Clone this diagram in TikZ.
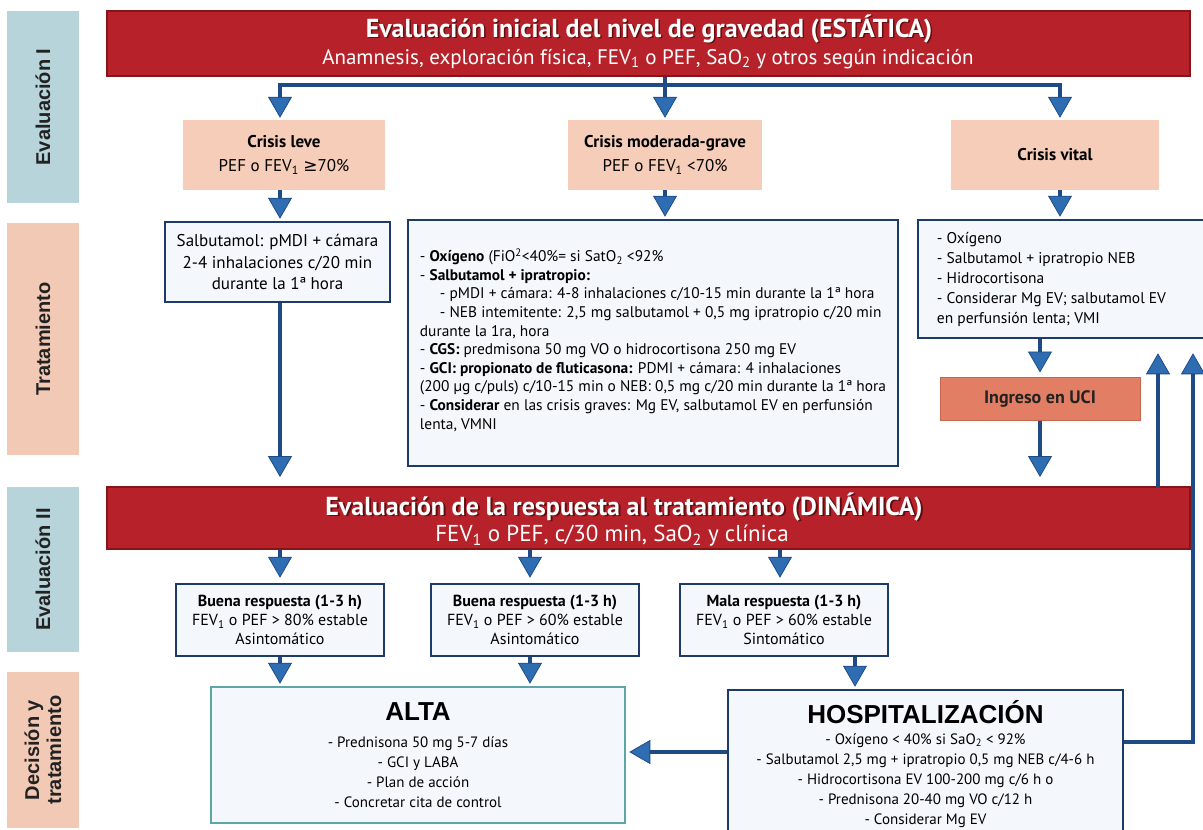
\documentclass[tikz,border=0pt]{standalone}
\usepackage{fontspec}
\setmainfont{PT Sans}
\newfontfamily\headfont{Liberation Sans}
\newfontfamily\symfont{DejaVu Sans}
\usetikzlibrary{arrows.meta}

\definecolor{linenavy}{HTML}{1E4B86}
\definecolor{headblue}{HTML}{2F6DB3}
\definecolor{boxborder}{HTML}{1C3B6A}
\definecolor{boxfill}{HTML}{F4F7FB}
\definecolor{crisisfill}{HTML}{F5CDB8}
\definecolor{labteal}{HTML}{B6D4D9}
\definecolor{labpeach}{HTML}{F2C9B5}
\definecolor{bannerred}{HTML}{B7222A}
\definecolor{bannerdark}{HTML}{861519}
\definecolor{shadowred}{HTML}{5E0E10}
\definecolor{ucifill}{HTML}{E27E63}
\definecolor{uciborder}{HTML}{C9654C}
\definecolor{altaborder}{HTML}{5DA6A7}
\definecolor{labtext}{HTML}{222222}

\newcommand{\sbs}[1]{\textsubscript{#1}}
\newcommand{\gesym}{{\symfont ≥}}

\begin{document}
\begin{tikzpicture}[x=1pt,y=-1pt,
  banner/.style={draw=bannerdark, line width=2pt, fill=bannerred, inner sep=0pt},
  bannertitle/.style={text=white, font=\fontsize{26}{30}\selectfont\bfseries, inner sep=0pt},
  bannersub/.style={text=white, font=\fontsize{21}{25}\selectfont, inner sep=0pt},
  labcol/.style={rotate=90, inner sep=0pt, text=labtext, align=center,
                 font=\headfont\fontsize{20}{22}\selectfont\bfseries},
  crisis/.style={fill=crisisfill, inner sep=0pt, align=center,
                 font=\fontsize{17}{24}\selectfont},
  tbox/.style={draw=boxborder, line width=2.5pt, fill=boxfill, inner sep=0pt},
  boxtext/.style={inner sep=0pt, align=center, font=\fontsize{17}{21.5}\selectfont},
  listtext/.style={inner sep=0pt, align=left, font=\fontsize{15.4}{18.6}\selectfont},
  resptext/.style={inner sep=0pt, align=center, font=\fontsize{16}{19}\selectfont},
  bigtitle/.style={inner sep=0pt, font=\headfont\fontsize{26}{30}\selectfont\bfseries},
  items/.style={inner sep=0pt, align=center, font=\fontsize{15}{20}\selectfont},
  conn/.style={draw=linenavy, line width=3.5pt},
  arr/.style={conn, -{Triangle[width=24pt,length=21pt,fill=headblue,line width=0.8pt]}}
]
\useasboundingbox (0,0) rectangle (1203,830);
\clip (0,0) rectangle (1203,830);

% column positions of the vertical connectors
\coordinate (xA) at (280,0);
\coordinate (xB) at (665,0);
\coordinate (xC) at (1060,0);
\coordinate (xD) at (1040,0);
\coordinate (xE) at (530,0);
\coordinate (xF) at (780,0);
\coordinate (xG) at (855,0);
\coordinate (xUp) at (1158,0);

% ---------- stage labels on the left ----------
\node[labcol, fill=labteal, minimum width=192, minimum height=72] (labE1) at (43,107) {Evaluación I};
\node[labcol, fill=labpeach, minimum width=232, minimum height=72] (labT) at (43,339) {Tratamiento};
\node[labcol, fill=labteal, minimum width=165, minimum height=72] (labE2) at (43,569.5) {Evaluación II};
\node[labcol, fill=labpeach, minimum width=156, minimum height=72] (labD) at (43,750) {Decisión y\\tratamiento};

% ---------- initial assessment ----------
\node[banner, minimum width=1083, minimum height=65] (top) at (648.5,43.5) {};
\node[bannertitle, text=shadowred] (toptitleshadow) at (650.5,30.5) {Evaluación inicial del nivel de gravedad (ESTÁTICA)};
\node[bannertitle] (toptitle) at (649,29) {Evaluación inicial del nivel de gravedad (ESTÁTICA)};
\node[bannersub] (topsub) at (648,59) {Anamnesis, exploración física, FEV\sbs{1} o PEF, SaO\sbs{2} y otros según indicación};

\node[crisis, minimum width=202, minimum height=70] (cleve) at (284,155)
  {\textbf{Crisis leve}\\PEF o FEV\sbs{1} \gesym70\%};
\node[crisis, minimum width=194, minimum height=70] (cmod) at (665,155)
  {\textbf{Crisis moderada-grave}\\PEF o FEV\sbs{1} <70\%};
\node[crisis, minimum width=208, minimum height=70] (cvit) at (1055,155)
  {\textbf{Crisis vital}};

% ---------- treatment ----------
\node[tbox, minimum width=225, minimum height=80] (salb) at (277.5,262) {};
\node[boxtext] (salbtxt) at (salb.center)
  {Salbutamol: pMDI + cámara\\2-4 inhalaciones c/20 min\\durante la 1ª hora};

\node[tbox, minimum width=490, minimum height=246] (tmod) at (653,343) {};
\node[listtext, anchor=west] (tmodtxt) at ([xshift=13pt,yshift=3pt]tmod.west)
  {- \textbf{Oxígeno} (FiO\textsuperscript{2}<40\%= si SatO\sbs{2} <92\%\\
   - \textbf{Salbutamol + ipratropio:}\\
   \hspace*{20pt}- pMDI + cámara: 4-8 inhalaciones c/10-15 min durante la 1ª hora\\
   \hspace*{20pt}- NEB intemitente: 2,5 mg salbutamol + 0,5 mg ipratropio c/20 min\\
   durante la 1ra, hora\\
   - \textbf{CGS:} predmisona 50 mg VO o hidrocortisona 250 mg EV\\
   - \textbf{GCI: propionato de fluticasona:} PDMI + cámara: 4 inhalaciones\\
   (200 µg c/puls) c/10-15 min o NEB: 0,5 mg c/20 min durante la 1ª hora\\
   - \textbf{Considerar} en las crisis graves: Mg EV, salbutamol EV en perfunsión\\
   lenta, VMNI};

\node[tbox, minimum width=294, minimum height=118] (tvit) at (1065,279) {};
\node[listtext, anchor=west, font=\fontsize{15.5}{20}\selectfont] (tvittxt) at ([xshift=20pt]tvit.west)
  {- Oxígeno\\- Salbutamol + ipratropio NEB\\- Hidrocortisona\\- Considerar Mg EV; salbutamol EV\\en perfunsión lenta; VMI};

\node[fill=ucifill, draw=uciborder, line width=1pt, minimum width=200, minimum height=43,
      inner sep=0pt, font=\fontsize{18}{20}\selectfont\bfseries, text=labtext] (uci) at (1040,398.5) {Ingreso en UCI};

% ---------- response assessment ----------
\node[banner, minimum width=1083, minimum height=62] (ev2) at (648.5,518) {};
\node[bannertitle, text=shadowred] (ev2titleshadow) at (626,508.5) {Evaluación de la respuesta al tratamiento (DINÁMICA)};
\node[bannertitle] (ev2title) at (624,507) {Evaluación de la respuesta al tratamiento (DINÁMICA)};
\node[bannersub, font=\fontsize{23}{26}\selectfont] (ev2sub) at (612,536) {FEV\sbs{1} o PEF, c/30 min, SaO\sbs{2} y clínica};

\node[tbox, minimum width=208, minimum height=72] (r1) at (280,620) {};
\node[resptext] (r1txt) at (r1.center)
  {\textbf{Buena respuesta (1-3 h)}\\FEV\sbs{1} o PEF > 80\% estable\\Asintomático};
\node[tbox, minimum width=208, minimum height=72] (r2) at (535,620) {};
\node[resptext] (r2txt) at (r2.center)
  {\textbf{Buena respuesta (1-3 h)}\\FEV\sbs{1} o PEF > 60\% estable\\Asintomático};
\node[tbox, minimum width=208, minimum height=72] (r3) at (784,620) {};
\node[resptext] (r3txt) at (r3.center)
  {\textbf{Mala respuesta (1-3 h)}\\FEV\sbs{1} o PEF > 60\% estable\\Sintomático};

% ---------- decision ----------
\node[tbox, draw=altaborder, minimum width=414, minimum height=136] (alta) at (418,755) {};
\node[bigtitle] (altatitle) at (418,712) {ALTA};
\node[items] (altaitems) at (418,772)
  {- Prednisona 50 mg 5-7 días\\- GCI y LABA\\- Plan de acción\\- Concretar cita de control};

\node[tbox, minimum width=395, minimum height=150] (hosp) at (925.5,765) {};
\node[bigtitle] (hosptitle) at (925.5,712) {HOSPITALIZACIÓN};
\node[items, anchor=north] (hospitems) at (925.5,733)
  {- Oxígeno < 40\% si SaO\sbs{2} < 92\%\\
   - Salbutamol 2,5 mg + ipratropio 0,5 mg NEB c/4-6 h\\
   - Hidrocortisona EV 100-200 mg c/6 h o\\
   - Prednisona 20-40 mg VO c/12 h\\
   - Considerar Mg EV};

% ---------- connectors ----------
\coordinate (split) at (665,85);
\draw[conn] (top.south -| xB) -- (split);
\draw[arr, shorten >=2pt] (split) -| (cleve.north -| xA);
\draw[arr, shorten >=2pt] (split) -| (cvit.north -| xC);
\draw[arr, shorten >=2pt] (split) -- (cmod.north -| xB);

\draw[arr, shorten >=2pt] (cleve.south -| xA) -- (salb.north -| xA);
\draw[arr, shorten >=2pt] (cmod.south -| xB) -- (tmod.north -| xB);
\draw[arr, shorten >=2pt] (cvit.south -| xC) -- (tvit.north -| xC);

\draw[arr, shorten >=9pt] (salb.south -| xA) -- (ev2.north -| xA);
\draw[arr, shorten >=4pt] (tvit.south -| xD) -- (uci.north -| xD);
\draw[arr, shorten >=9pt] (uci.south -| xD) -- (ev2.north -| xD);
\draw[arr, shorten >=14pt] ([yshift=-2pt]ev2.north -| xUp) -- (tvit.south -| xUp);

\draw[arr, shorten >=5pt] (ev2.south -| xA) -- (r1.north -| xA);
\draw[arr, shorten >=5pt] (ev2.south -| xE) -- (r2.north -| xE);
\draw[arr, shorten >=5pt] (ev2.south -| xF) -- (r3.north -| xF);

\draw[arr, shorten >=2pt] (r1.south -| xA) -- (alta.north -| xA);
\draw[arr, shorten >=2pt] (r2.south -| xE) -- (alta.north -| xE);
\draw[arr, shorten >=2pt] (r3.south -| xG) -- (hosp.north -| xG);

\coordinate (hret) at (1193,742);
\coordinate (hleft) at (0,752);
\draw[arr, shorten >=3pt] (hosp.west |- hleft) -- (alta.east |- hleft);
\draw[arr, shorten >=14pt] (hosp.east |- hret) -- (hret) -- (hret |- tvit.south);

\end{tikzpicture}
\end{document}
